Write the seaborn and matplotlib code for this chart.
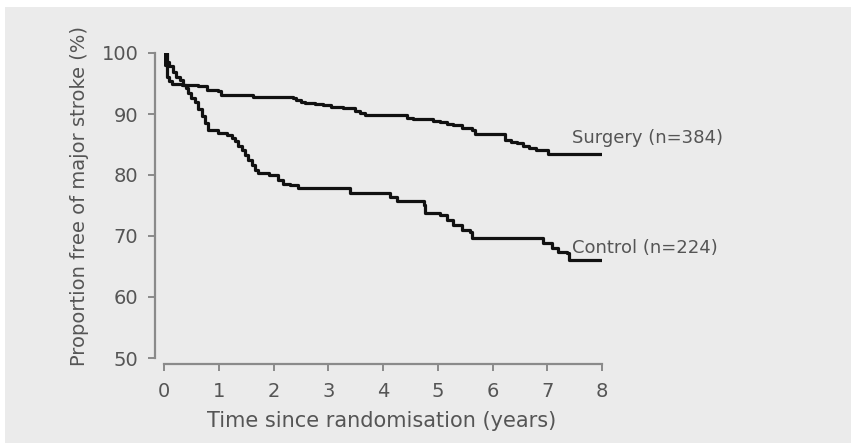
import pandas as pd
import seaborn as sns
import matplotlib.pyplot as plt
from matplotlib.patches import Rectangle

# Kaplan-Meier step points (time in years, % free of major stroke)
surgery_time = [0, 0.02, 0.05, 0.10, 0.14, 0.32, 0.63, 0.78, 0.99, 1.05,
                1.63, 2.36, 2.42, 2.50, 2.58, 2.75, 2.91, 3.05, 3.27, 3.49,
                3.58, 3.67, 4.43, 4.55, 4.92, 5.04, 5.16, 5.28, 5.45, 5.62,
                5.68, 6.23, 6.33, 6.44, 6.55, 6.66, 6.80, 7.02, 8.0]
surgery_free = [100, 98.0, 96.1, 95.4, 95.0, 94.75, 94.6, 93.9, 93.8, 93.1,
                92.8, 92.6, 92.3, 92.0, 91.8, 91.6, 91.5, 91.2, 91.0, 90.5,
                90.1, 89.8, 89.4, 89.2, 88.9, 88.7, 88.4, 88.2, 87.7, 87.4,
                86.8, 85.7, 85.4, 85.2, 84.8, 84.4, 84.1, 83.5, 83.5]

control_time = [0, 0.05, 0.10, 0.16, 0.22, 0.29, 0.34, 0.40, 0.44, 0.50,
                0.56, 0.63, 0.69, 0.75, 0.81, 0.99, 1.15, 1.24, 1.30, 1.36,
                1.42, 1.48, 1.54, 1.60, 1.66, 1.72, 1.91, 2.09, 2.18, 2.30,
                2.45, 3.40, 4.12, 4.25, 4.74, 4.77, 5.04, 5.16, 5.28, 5.44,
                5.59, 5.62, 6.93, 7.08, 7.20, 7.36, 7.39, 8.0]
control_free = [100, 98.6, 97.8, 96.9, 96.1, 95.5, 94.75, 94.2, 93.4, 92.6,
                92.0, 90.9, 89.6, 88.5, 87.4, 86.9, 86.6, 86.0, 85.5, 84.8,
                84.1, 83.3, 82.5, 81.6, 80.8, 80.3, 80.0, 79.2, 78.6, 78.3,
                77.8, 77.0, 76.4, 75.8, 75.1, 73.7, 73.4, 72.6, 71.8, 71.0,
                70.7, 69.6, 68.8, 68.0, 67.4, 67.2, 66.1, 66.1]

group_labels = ["Surgery (n=384)", "Control (n=224)"]
x_ticks = [0, 1, 2, 3, 4, 5, 6, 7, 8]
y_ticks = [50, 60, 70, 80, 90, 100]

df = pd.concat([
    pd.DataFrame({"time": surgery_time, "free": surgery_free, "group": group_labels[0]}),
    pd.DataFrame({"time": control_time, "free": control_free, "group": group_labels[1]}),
])

sns.set_style("ticks")
plt.rcParams["font.family"] = ["DejaVu Sans"]
text_col = "#555555"
spine_col = "#8a8a8a"
bg = "#ebebeb"

fig = plt.figure(figsize=(8.51, 4.43), dpi=100, facecolor=bg)
# white strips along the top and left edge of the scan
fig.patches.append(Rectangle((0, 1 - 7 / 443), 1, 7 / 443, transform=fig.transFigure,
                             facecolor="white", edgecolor="none", zorder=0))
fig.patches.append(Rectangle((0, 0), 5 / 851, 1, transform=fig.transFigure,
                             facecolor="white", edgecolor="none", zorder=0))

ax = fig.add_axes([164 / 851, 1 - 358 / 443, (602 - 164) / 851, (358 - 53) / 443])
ax.set_facecolor(bg)

sns.lineplot(data=df, x="time", y="free", units="group", estimator=None,
             color="#111111", linewidth=2.3, drawstyle="steps-post", ax=ax,
             legend=False, sort=False)

ax.set_xlim(0, 8)
ax.set_ylim(50, 100)
ax.set_xticks(x_ticks)
ax.set_yticks(y_ticks)
ax.set_xlabel("")
ax.set_ylabel("")

sns.despine(ax=ax)
ax.spines["left"].set_position(("outward", 6.5))
ax.spines["bottom"].set_position(("outward", 4.3))
for s in ["left", "bottom"]:
    ax.spines[s].set_color(spine_col)
    ax.spines[s].set_linewidth(1.6)
ax.tick_params(axis="both", colors=spine_col, width=1.4, length=5,
               labelcolor=text_col, labelsize=14)
ax.tick_params(axis="y", pad=7)
ax.tick_params(axis="x", pad=8)

ax.text(7.45, 86.0, group_labels[0], fontsize=13, color=text_col, va="center", ha="left")
ax.text(7.45, 68.0, group_labels[1], fontsize=13, color=text_col, va="center", ha="left")

fig.text(382 / 851, 1 - 421 / 443, "Time since randomisation (years)", fontsize=15,
         color=text_col, ha="center", va="center")
fig.text(80 / 851, 1 - 196 / 443, "Proportion free of major stroke (%)", fontsize=14,
         color=text_col, ha="center", va="center", rotation=90)

fig.savefig("out.png", dpi=100, facecolor=bg)
